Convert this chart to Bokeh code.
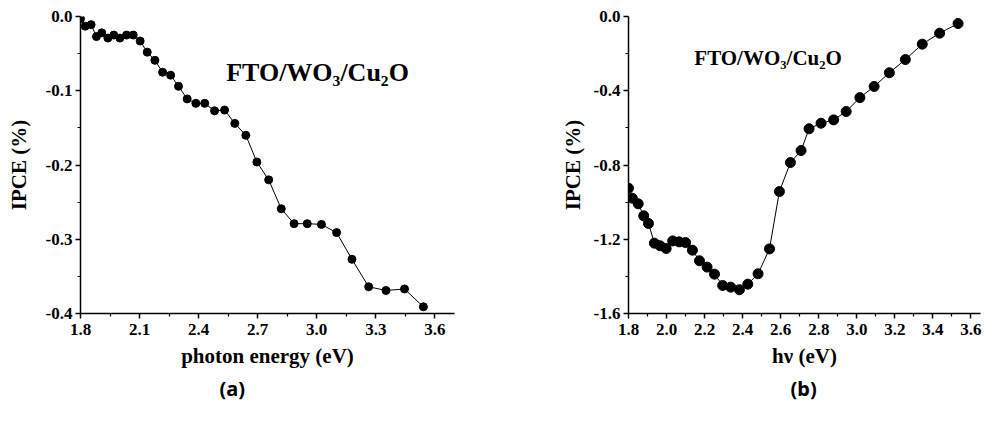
from bokeh.plotting import figure
from bokeh.layouts import row
from bokeh.models import FixedTicker, PrintfTickFormatter, Label, Title, Range1d
from bokeh.embed import file_html
from bokeh.resources import INLINE

# ---------------- data ----------------
# panel (a): IPCE vs photon energy
a_energy = [1.800, 1.824, 1.854, 1.881, 1.908, 1.939, 1.969, 2.000, 2.034, 2.068,
            2.103, 2.139, 2.178, 2.217, 2.258, 2.298, 2.342, 2.386, 2.431, 2.481,
            2.532, 2.584, 2.640, 2.696, 2.756, 2.820, 2.885, 2.952, 3.024, 3.101,
            3.179, 3.264, 3.352, 3.446, 3.542]
a_ipce = [-0.003, -0.013, -0.011, -0.027, -0.022, -0.029, -0.025, -0.029, -0.025, -0.025,
          -0.033, -0.048, -0.059, -0.075, -0.079, -0.094, -0.111, -0.117, -0.117, -0.127,
          -0.126, -0.144, -0.160, -0.196, -0.220, -0.259, -0.279, -0.279, -0.280, -0.291,
          -0.327, -0.364, -0.369, -0.367, -0.391]
a_xticks = [1.8, 2.1, 2.4, 2.7, 3.0, 3.3, 3.6]
a_yticks = [0.0, -0.1, -0.2, -0.3, -0.4]

# panel (b): IPCE vs h-nu
b_hv = [1.800, 1.820, 1.851, 1.880, 1.905, 1.936, 1.966, 1.998, 2.032, 2.066,
        2.100, 2.136, 2.173, 2.213, 2.252, 2.295, 2.337, 2.383, 2.427, 2.481,
        2.541, 2.593, 2.651, 2.707, 2.749, 2.812, 2.878, 2.944, 3.016, 3.091,
        3.171, 3.255, 3.344, 3.435, 3.532]
b_ipce = [-0.925, -0.979, -1.009, -1.074, -1.115, -1.221, -1.235, -1.250, -1.209, -1.214,
          -1.218, -1.259, -1.316, -1.350, -1.388, -1.449, -1.458, -1.472, -1.442, -1.386,
          -1.252, -0.943, -0.787, -0.722, -0.605, -0.575, -0.557, -0.512, -0.437, -0.377,
          -0.303, -0.232, -0.149, -0.090, -0.038]
b_xticks = [1.8, 2.0, 2.2, 2.4, 2.6, 2.8, 3.0, 3.2, 3.4, 3.6]
b_yticks = [0.0, -0.4, -0.8, -1.2, -1.6]

a_label = "FTO/WO\u2083/Cu\u2082O"
b_label = "FTO/WO\u2083/Cu\u2082O"

SERIF = "Liberation Serif"


def mids(t):
    s = sorted(t)
    return [(s[i] + s[i + 1]) / 2 for i in range(len(s) - 1)]


def style(p, xt, yt, ylab_standoff):
    p.outline_line_color = None
    p.grid.visible = False
    p.background_fill_color = "white"
    p.border_fill_color = "white"
    p.xaxis.ticker = FixedTicker(ticks=xt, minor_ticks=mids(xt))
    p.yaxis.ticker = FixedTicker(ticks=yt, minor_ticks=mids(yt))
    p.xaxis.formatter = PrintfTickFormatter(format="%.1f")
    p.yaxis.formatter = PrintfTickFormatter(format="%.1f")
    for ax in p.axis:
        ax.axis_line_width = 1.5
        ax.axis_line_color = "black"
        ax.major_tick_line_color = "black"
        ax.minor_tick_line_color = "black"
        ax.major_tick_line_width = 1.5
        ax.minor_tick_line_width = 1.2
        ax.major_tick_out = 5
        ax.major_tick_in = 0
        ax.minor_tick_out = 3
        ax.minor_tick_in = 0
        ax.major_label_text_font = SERIF
        ax.major_label_text_font_style = "bold"
        ax.major_label_text_font_size = "17px"
        ax.major_label_text_color = "black"
        ax.axis_label_text_font = SERIF
        ax.axis_label_text_font_style = "bold"
        ax.axis_label_text_font_size = "21px"
        ax.axis_label_text_color = "black"
    p.xaxis.major_label_standoff = 5
    p.xaxis.axis_label_standoff = 6
    p.yaxis.major_label_standoff = 3
    p.yaxis.axis_label_standoff = ylab_standoff


def caption(text, offset):
    return Title(text=text, align="left", offset=offset, standoff=4, text_font="Noto Sans",
                 text_font_style="bold", text_font_size="20px", text_color="black")


# ---------------- panel (a) ----------------
pa = figure(frame_width=374, frame_height=297, output_backend="svg", toolbar_location=None,
            x_range=Range1d(1.8, 3.7), y_range=Range1d(-0.4, 0.0),
            min_border_left=80, min_border_right=58, min_border_top=16, min_border_bottom=86)
style(pa, a_xticks, a_yticks, 12)
pa.xaxis.axis_label = "photon energy (eV)"
pa.yaxis.axis_label = "IPCE (%)"
pa.line(a_energy, a_ipce, line_color="black", line_width=1)
pa.scatter(a_energy, a_ipce, size=8, fill_color="black", line_color="black")
pa.add_layout(Label(x=2.54, y=-0.0757, text=a_label, text_font=SERIF, text_font_style="bold",
                    text_font_size="26px", text_color="black", text_baseline="alphabetic"))
pa.add_layout(caption("(a)", 139), "below")

# ---------------- panel (b) ----------------
pb = figure(frame_width=352, frame_height=297, output_backend="svg", toolbar_location=None,
            x_range=Range1d(1.8, 3.65), y_range=Range1d(-1.6, 0.0),
            min_border_left=116, min_border_right=4, min_border_top=16, min_border_bottom=86)
style(pb, b_xticks, b_yticks, 6)
pb.xaxis.axis_label = "h\u03bd (eV)"
pb.yaxis.axis_label = "IPCE (%)"
pb.line(b_hv, b_ipce, line_color="black", line_width=1)
pb.scatter(b_hv, b_ipce, size=10, fill_color="black", line_color="black")
pb.add_layout(Label(x=2.146, y=-0.225, text=b_label, text_font=SERIF, text_font_style="bold",
                    text_font_size="21px", text_color="black", text_baseline="alphabetic"))
pb.add_layout(caption("(b)", 162), "below")

layout = row(pa, pb)
open("out.html", "w").write(file_html(layout, INLINE))
